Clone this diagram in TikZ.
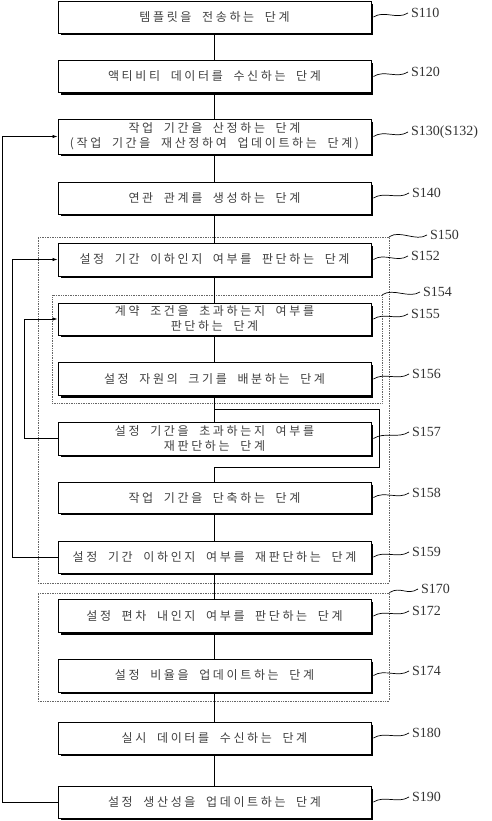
\documentclass[tikz,border=0pt]{standalone}
\usepackage{fontspec}
\newfontfamily\kr[LetterSpace=22,WordSpace=2.0]{Noto Sans CJK KR}
\newfontfamily\lab{Liberation Serif}
\usetikzlibrary{arrows.meta}
\begin{document}
\begin{tikzpicture}[x=1pt,y=-1pt,
 stepbox/.style={draw,fill=white,line width=0.9pt,minimum width=313pt,minimum height=32pt,inner sep=0pt,align=center,text=black!75,font=\kr\fontsize{12}{15}\selectfont},
 shade/.style={line width=2pt},
 conn/.style={line width=0.8pt},
 fb/.style={line width=0.8pt,-{Latex[length=5pt,width=3.5pt]}},
 grp/.style={draw,densely dotted,line width=0.7pt,black!60,inner sep=0pt},
 lbl/.style={font=\lab\fontsize{14}{14}\selectfont,anchor=west,inner sep=0pt,text=black!80},
 wave/.style={line width=0.7pt}]
\useasboundingbox (0,0) rectangle (492,821);
% groups
\node[grp,minimum width=351pt,minimum height=346pt] (g150) at (213.5,410) {};
\node[grp,minimum width=330pt,minimum height=108pt] (g154) at (217,349) {};
\node[grp,minimum width=351pt,minimum height=108pt] (g170) at (213.5,647) {};
% steps
\node[stepbox] (s110) at (214.5,17) {템플릿을 전송하는 단계};
\node[stepbox] (s120) at (214.5,76.5) {액티비티 데이터를 수신하는 단계};
\node[stepbox,minimum height=35pt] (s130) at (214.5,136.5) {작업 기간을 산정하는 단계\\(작업 기간을 재산정하여 업데이트하는 단계)};
\node[stepbox] (s140) at (214.5,198) {연관 관계를 생성하는 단계};
\node[stepbox,minimum height=33pt] (s152) at (214.5,259.5) {설정 기간 이하인지 여부를 판단하는 단계};
\node[stepbox] (s155) at (214.5,319) {계약 조건을 초과하는지 여부를\\판단하는 단계};
\node[stepbox,minimum height=33pt] (s156) at (214.5,379) {설정 자원의 크기를 배분하는 단계};
\node[stepbox,minimum height=33pt] (s157) at (214.5,438.5) {설정 기간을 초과하는지 여부를\\재판단하는 단계};
\node[stepbox,minimum height=31pt] (s158) at (214.5,497.5) {작업 기간을 단축하는 단계};
\node[stepbox] (s159) at (214.5,557) {설정 기간 이하인지 여부를 재판단하는 단계};
\node[stepbox,minimum height=33pt] (s172) at (214.5,616) {설정 편차 내인지 여부를 판단하는 단계};
\node[stepbox,minimum height=33pt] (s174) at (214.5,675.5) {설정 비율을 업데이트하는 단계};
\node[stepbox] (s180) at (214.5,738) {실시 데이터를 수신하는 단계};
\node[stepbox] (s190) at (214.5,802) {설정 생산성을 업데이트하는 단계};
\foreach \b in {s110,s120,s130,s140,s152,s155,s156,s157,s158,s159,s172,s174,s180,s190}{
  \draw[shade] ([xshift=1pt,yshift=-3pt]\b.north east) -- ([xshift=1pt,yshift=-1pt]\b.south east) -- ([xshift=3pt,yshift=-1pt]\b.south west);
}
% labels
\node[lbl] (l110) at (411,13) {S110};
\node[lbl] (l120) at (411,72) {S120};
\node[lbl] (l130) at (411,132) {S130(S132)};
\node[lbl] (l140) at (412,193) {S140};
\node[lbl] (l150) at (430,235) {S150};
\node[lbl] (l152) at (411,256) {S152};
\node[lbl] (l154) at (423,292) {S154};
\node[lbl] (l155) at (411,314) {S155};
\node[lbl] (l156) at (412,374) {S156};
\node[lbl] (l157) at (412,432) {S157};
\node[lbl] (l158) at (412,493) {S158};
\node[lbl] (l159) at (412,552) {S159};
\node[lbl] (l170) at (421,589) {S170};
\node[lbl] (l172) at (412,611) {S172};
\node[lbl] (l174) at (412,671) {S174};
\node[lbl] (l180) at (412,733) {S180};
\node[lbl] (l190) at (412,797) {S190};
% waves
\foreach \b/\l in {s110/l110,s120/l120,s130/l130,s140/l140,s152/l152,s155/l155,s156/l156,s157/l157,s158/l158,s159/l159,s172/l172,s174/l174,s180/l180,s190/l190}{
  \draw[wave] ([xshift=2pt]\b.east) .. controls +(11,-7) and +(-11,7) .. ([xshift=-3pt]\l.west);
}
\foreach \b/\l in {g150/l150,g154/l154,g170/l170}{
  \draw[wave] (\b.north east) .. controls +(11,-7) and +(-11,7) .. ([xshift=-3pt]\l.west);
}
% main flow
\draw[conn] (s110.south) -- (s120.north);
\draw[conn] (s120.south) -- (s130.north);
\draw[conn] (s130.south) -- (s140.north);
\draw[conn] (s140.south) -- (s152.north);
\draw[conn] (s152.south) -- (s155.north);
\draw[conn] (s155.south) -- (s156.north);
\draw[conn] (s156.south) -- (s157.north);
\coordinate (b1) at (214.5,409);
\coordinate (br) at (379,409);
\coordinate (bj) at (214.5,467);
\draw[conn] (b1) -- (br) |- (bj) -- (s158.north);
\draw[conn] (s158.south) -- (s159.north);
\draw[conn] (s159.south) -- (s172.north);
\draw[conn] (s172.south) -- (s174.north);
\draw[conn] (s174.south) -- (s180.north);
\draw[conn] (s180.south) -- (s190.north);
% feedback
\draw[fb] (s190.west) -- ++(-55,0) |- (s130.west);
\draw[fb] (s159.west) -- ++(-45,0) |- (s152.west);
\draw[fb] (s157.west) -- ++(-33,0) |- (s155.west);
\end{tikzpicture}
\end{document}
